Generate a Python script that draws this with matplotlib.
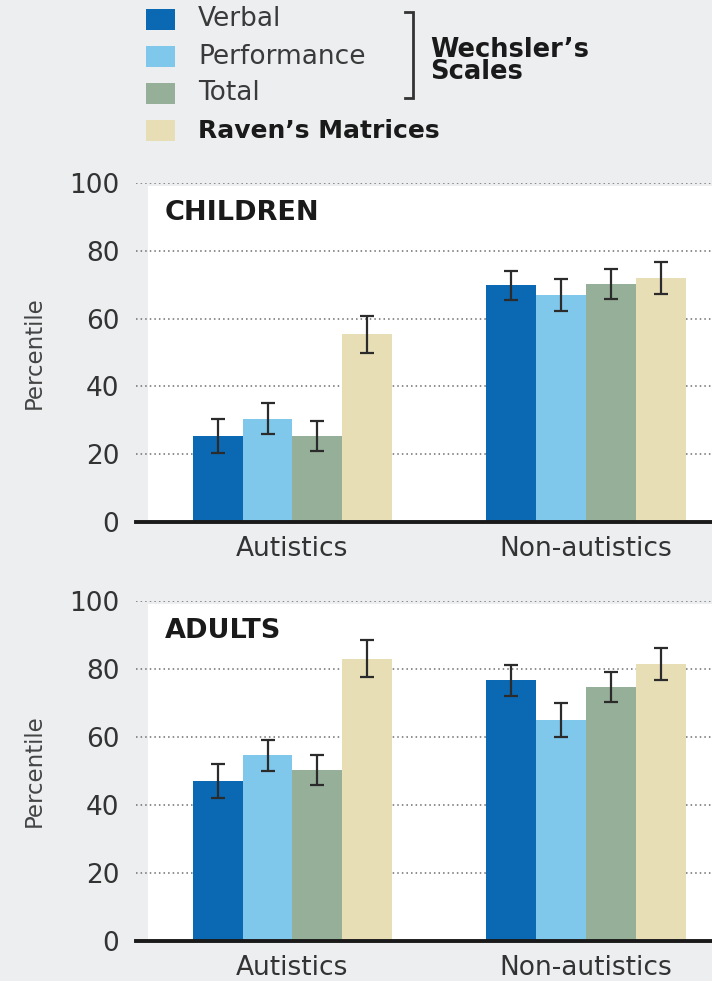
import numpy as np
import matplotlib
matplotlib.use("Agg")
import matplotlib.pyplot as plt
from matplotlib.patches import Rectangle

# DATA
# =============================================================================
groups = ["Autistics", "Non-autistics"]
series = ["Verbal", "Performance", "Total", "Raven\u2019s Matrices"]

children_mean = {
    "Verbal":      [25.5, 69.8],
    "Performance": [30.5, 66.9],
    "Total":       [25.3, 70.1],
    "Raven\u2019s Matrices": [55.4, 72.0],
}
children_err = {
    "Verbal":      [5.0, 4.2],
    "Performance": [4.5, 4.8],
    "Total":       [4.4, 4.4],
    "Raven\u2019s Matrices": [5.5, 4.6],
}
adults_mean = {
    "Verbal":      [47.0, 76.7],
    "Performance": [54.6, 65.0],
    "Total":       [50.3, 74.7],
    "Raven\u2019s Matrices": [83.0, 81.5],
}
adults_err = {
    "Verbal":      [5.0, 4.5],
    "Performance": [4.6, 4.9],
    "Total":       [4.3, 4.4],
    "Raven\u2019s Matrices": [5.4, 4.6],
}
yticks = [0, 20, 40, 60, 80, 100]
# =============================================================================

# STYLE
# =============================================================================
colors = ["#0b68b2", "#7fc8ec", "#96af99", "#e7deb6"]
bg = "#eceef0"
ink = "#333333"
W, H = 712, 981
bar_w = 0.17
plt.rcParams["font.family"] = ["DejaVu Sans"]
# =============================================================================

fig = plt.figure(figsize=(W / 100, H / 100), dpi=100, facecolor=bg)


def px_axes(left, top, right, bottom):
    # axes placed by pixel edges measured from the top-left corner
    return fig.add_axes([left / W, 1 - bottom / H, (right - left) / W, (bottom - top) / H])


def draw_panel(ax, means, errs, title):
    ax.set_facecolor(bg)
    ax.set_xlim(-0.533, 1.429)
    ax.set_ylim(0, 100)
    # white plotting area that starts just right of the grid start
    ax.add_patch(Rectangle((-0.492, 0), 2.0, 99.2, facecolor="white",
                           edgecolor="none", zorder=0.1))
    x = np.arange(len(groups))
    for i, name in enumerate(series):
        pos = x + (i - 1.5) * bar_w
        ax.bar(pos, means[name], width=bar_w, color=colors[i], zorder=2)
        ax.errorbar(pos, means[name], yerr=errs[name], fmt="none",
                    ecolor="#2b2b2b", elinewidth=1.6, capsize=5,
                    capthick=1.6, zorder=3)
    ax.set_yticks(yticks)
    ax.set_xticks(x)
    ax.set_xticklabels(groups, fontsize=19, color=ink)
    ax.tick_params(axis="y", length=0, pad=12, labelsize=19, labelcolor=ink)
    ax.tick_params(axis="x", length=0, pad=10)
    ax.set_axisbelow(True)
    ax.yaxis.grid(True, color="#6e6e6e", linestyle=(0, (1, 2)), linewidth=1.1)
    for s in ["top", "right", "left"]:
        ax.spines[s].set_visible(False)
    ax.spines["bottom"].set_linewidth(2.8)
    ax.spines["bottom"].set_color("#1a1a1a")
    ax.spines["bottom"].set_zorder(4)
    ax.set_ylabel("Percentile", fontsize=16.5, color="#444444")
    ax.yaxis.set_label_coords(-0.156, 0.5)
    ax.text(-0.434, 89.0, title, fontsize=19.5, fontweight="bold",
            color="#1a1a1a", va="baseline", ha="left", zorder=5)


# PANELS
# =============================================================================
ax1 = px_axes(136, 183, W, 522)
draw_panel(ax1, children_mean, children_err, "CHILDREN")

ax2 = px_axes(136, 601, W, 941)
draw_panel(ax2, adults_mean, adults_err, "ADULTS")
# =============================================================================

# LEGEND (drawn on a full-figure overlay in pixel units)
# =============================================================================
lg = fig.add_axes([0, 0, 1, 1], facecolor="none")
lg.set_xlim(0, W)
lg.set_ylim(H, 0)
lg.axis("off")

row_y = [19.5, 56.5, 93.5, 130.5]
for i, name in enumerate(series):
    lg.add_patch(Rectangle((146, row_y[i] - 10.5), 29, 21, facecolor=colors[i],
                           edgecolor="none"))
    bold = i == 3
    lg.text(198, row_y[i], name, fontsize=18 if bold else 19,
            fontweight="bold" if bold else "normal",
            color="#1a1a1a" if bold else "#3a3a3a", va="center", ha="left")

# bracket grouping the Wechsler subscales
lg.plot([405, 413, 413, 405], [12, 12, 98, 98], color=ink, linewidth=2,
        solid_joinstyle="miter")
lg.text(430, 61, "Wechsler\u2019s\nScales", fontsize=18.5, fontweight="bold",
        color="#1a1a1a", va="center", ha="left", linespacing=0.8)
# =============================================================================

fig.savefig("out.png", dpi=100, facecolor=bg)
